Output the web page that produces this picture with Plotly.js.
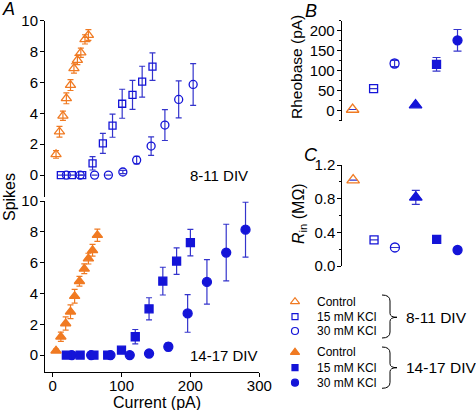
<!DOCTYPE html>
<html>
<head>
<meta charset="utf-8">
<script src="https://cdn.plot.ly/plotly-3.0.1.min.js"></script>
<style>html,body{margin:0;padding:0;background:#fff;}#plot{width:476px;height:410px;}</style>
</head>
<body>
<div id="plot"></div>
<script>
// ---------- DATA ----------
// Panel A, 8-11 DIV
var ctlX1 = [5, 10, 15, 20, 26, 31, 36, 41, 47, 52];
var ctlY1 = [1.34, 2.81, 3.84, 4.97, 5.83, 6.91, 7.45, 7.93, 8.79, 9.07];
var ctlE1 = [0.25, 0.35, 0.3, 0.35, 0.35, 0.3, 0.3, 0.3, 0.3, 0.35];
var k15X1 = [12, 28, 43, 58, 73, 87, 101, 116, 130, 145];
var k15Y1 = [0, 0, 0, 0.76, 2.05, 3.2, 4.62, 5.2, 6.05, 7.02];
var k15E1 = [0, 0, 0, 0.43, 0.65, 0.75, 0.94, 0.94, 1.0, 0.89];
var k30X1 = [20, 40, 61, 81, 102, 122, 143, 163, 183, 204];
var k30Y1 = [0, 0, 0, 0, 0.2, 0.97, 1.88, 3.24, 4.9, 5.87];
var k30E1 = [0, 0, 0, 0, 0.1, 0.25, 0.6, 1.0, 1.2, 1.35];
// Panel A, 14-17 DIV
var ctlX2 = [5, 12, 19, 26, 32, 39, 46, 52, 58, 65];
var ctlY2 = [0.28, 1.19, 2.05, 2.81, 3.82, 4.79, 5.6, 6.26, 6.8, 7.78];
var ctlE2 = [0.1, 0.3, 0.43, 0.45, 0.45, 0.32, 0.32, 0.35, 0.38, 0.4];
var k15X2 = [20, 40, 60, 80, 100, 120, 140, 160, 180, 200];
var k15Y2 = [0, 0, 0, 0, 0.32, 1.19, 3.0, 4.8, 6.1, 7.3];
var k15E2 = [0, 0, 0, 0, 0.1, 0.47, 0.72, 0.9, 0.86, 0.86];
var k30X2 = [28, 56, 84, 112, 140, 168, 196, 224, 252, 280];
var k30Y2 = [0, 0, 0, 0, 0.1, 0.54, 2.7, 4.75, 6.65, 8.14];
var k30E2 = [0, 0, 0, 0, 0.05, 0.25, 1.22, 1.45, 1.84, 1.78];
// Panels B and C (groups: 8-11 ctl, 15, 30; 14-17 ctl, 15, 30)
var groups = [1, 2, 3, 4, 5, 6];
var rheobase = [3, 55, 118, 14, 116, 176];
var rheobaseErr = [0, 0, 8, 0, 17, 27];
var rin = [1.02, 0.31, 0.22, 0.816, 0.317, 0.19];
var rinErr = [0, 0, 0, 0.083, 0, 0];
// Legend
var legendLabels = ['Control', '15 mM KCl', '30 mM KCl', 'Control', '15 mM KCl', '30 mM KCl'];
var divLabels = ['8-11 DIV', '14-17 DIV'];

// ---------- STYLE ----------
var OR = '#f07a22', BL = '#1414d8', BLE = '#3434cc';
var FONT = 'Arial, "Liberation Sans", sans-serif';
var W = 476, H = 410;

function seriesTrace(x, y, e, xa, ya, sym, col, size, ecol, ew) {
  return {
    type: 'scatter', mode: 'markers', x: x, y: y, xaxis: xa, yaxis: ya,
    cliponaxis: false, showlegend: false,
    error_y: {type: 'data', array: e, visible: true, color: ecol, thickness: 1.2, width: ew || 3},
    marker: {symbol: sym, size: size, color: col, opacity: 1, line: {color: col, width: 1.3}}
  };
}

var data = [
  seriesTrace(k30X1, k30Y1, k30E1, 'x', 'y', 'circle-open', BL, 8, BLE),
  seriesTrace(k15X1, k15Y1, k15E1, 'x', 'y', 'square-open', BL, 7, BLE),
  seriesTrace(ctlX1, ctlY1, ctlE1, 'x', 'y', 'triangle-up-open', OR, 9, OR),
  seriesTrace(k30X2, k30Y2, k30E2, 'x2', 'y2', 'circle', BL, 9, BLE),
  seriesTrace(k15X2, k15Y2, k15E2, 'x2', 'y2', 'square', BL, 8, BLE),
  seriesTrace(ctlX2, ctlY2, ctlE2, 'x2', 'y2', 'triangle-up', OR, 9, OR)
];

var bcSym = ['triangle-up-open', 'square-open', 'circle-open', 'triangle-up', 'square', 'circle'];
var bcCol = [OR, BL, BL, BL, BL, BL];
var bcSize = [11, 8, 9, 11, 8, 9];
groups.forEach(function(g, i) {
  data.push(seriesTrace([g], [rheobase[i]], [rheobaseErr[i]], 'x3', 'y3', bcSym[i], bcCol[i], bcSize[i], BLE, 4));
  data.push(seriesTrace([g], [rin[i]], [rinErr[i]], 'x4', 'y4', bcSym[i], bcCol[i], bcSize[i], BLE, 4));
});

// Legend markers on a pixel overlay axis
var legX0 = 295, legTextX = 315;
var legRowY = [301.7, 316.7, 331, 352.3, 367.7, 382.7];
var legSym = ['triangle-up-open', 'square-open', 'circle-open', 'triangle-up', 'square', 'circle'];
var legCol = [OR, BL, BL, OR, BL, BL];
var legSize = [8, 6, 7, 8, 6, 7];
legendLabels.forEach(function(l, i) {
  data.push({
    type: 'scatter', mode: 'markers', xaxis: 'x5', yaxis: 'y5', showlegend: false, cliponaxis: false,
    x: [legX0], y: [legRowY[i]],
    marker: {symbol: legSym[i], size: legSize[i], color: legCol[i], opacity: 1, line: {color: legCol[i], width: 1.2}}
  });
});

function px(x) { return x / W; }
function py(y) { return 1 - y / H; }

var axBase = {showgrid: false, zeroline: false, showline: true, linecolor: '#000', linewidth: 1,
  ticks: 'outside', ticklen: 4, tickwidth: 1, tickcolor: '#000',
  tickfont: {family: FONT, size: 15, color: '#000'}, fixedrange: true};
function ax(o) { var r = {}; for (var k in axBase) r[k] = axBase[k]; for (var k2 in o) r[k2] = o[k2]; return r; }

var annotations = [];
function txt(t, x, y, size, opts) {
  var a = {text: t, x: x, y: y, xref: 'x5', yref: 'y5', showarrow: false,
    font: {family: FONT, size: size, color: '#000'}, xanchor: 'center', yanchor: 'middle'};
  if (opts) for (var k in opts) a[k] = opts[k];
  annotations.push(a);
}
txt('<i>A</i>', 8, 9, 18);
txt('<i>B</i>', 311, 11, 18);
txt('<i>C</i>', 311, 155, 18);
txt('Spikes', 9, 197, 16, {textangle: -90});
txt('Current (pA)', 157, 402, 16);
txt('Rheobase (pA)', 296, 67, 15.5, {textangle: -90});
txt('<i>R</i><sub>in</sub> (MΩ)', 299, 214, 16, {textangle: -90});
txt(divLabels[0], 188, 175, 15, {xanchor: 'left'});
txt(divLabels[1], 188, 355, 15, {xanchor: 'left'});
legendLabels.forEach(function(l, i) { txt(l, legTextX, legRowY[i], 12, {xanchor: 'left'}); });
txt(divLabels[0], 404, 317.3, 15.5, {xanchor: 'left'});
txt(divLabels[1], 404, 367.7, 15.5, {xanchor: 'left'});

function brace(top, bot, mid) {
  var xl = 382, xs = 390, xt = 397;
  return {type: 'path', xref: 'x5', yref: 'y5', line: {color: '#000', width: 1},
    path: 'M' + xl + ',' + top + ' Q' + xs + ',' + top + ' ' + xs + ',' + (top + 6) +
      ' L' + xs + ',' + (mid - 4) + ' Q' + xs + ',' + mid + ' ' + xt + ',' + mid +
      ' Q' + xs + ',' + mid + ' ' + xs + ',' + (mid + 4) +
      ' L' + xs + ',' + (bot - 6) + ' Q' + xs + ',' + bot + ' ' + xl + ',' + bot};
}

var layout = {
  width: W, height: H, margin: {l: 0, r: 0, t: 0, b: 0},
  paper_bgcolor: '#fff', plot_bgcolor: 'rgba(0,0,0,0)', showlegend: false,
  font: {family: FONT, color: '#000'},
  xaxis: ax({domain: [px(45), px(259.3)], range: [-11, 300], anchor: 'y', visible: false}),
  yaxis: ax({domain: [py(196.7), py(20.7)], range: [-1.4, 10], anchor: 'x', dtick: 2, tick0: 0, ticklabelstandoff: -1}),
  xaxis2: ax({domain: [px(45), px(259.3)], range: [-11, 300], anchor: 'y2', dtick: 100, tick0: 0, ticklabelstandoff: -4}),
  yaxis2: ax({domain: [py(371.7), py(201)], range: [-1.08, 10], anchor: 'x2', dtick: 2, tick0: 0, ticklabelstandoff: -1}),
  xaxis3: ax({domain: [px(341.7), px(468)], range: [0.48, 6.5], anchor: 'y3', visible: false}),
  yaxis3: ax({domain: [py(120.7), py(20.7)], range: [-25, 225], anchor: 'x3', dtick: 50, tick0: 0, ticklabelstandoff: -1,
    minor: {dtick: 25, tick0: 0, ticks: 'outside', ticklen: 2, tickcolor: '#000', showgrid: false}}),
  xaxis4: ax({domain: [px(342.3), px(468)], range: [0.48, 6.5], anchor: 'y4', visible: false}),
  yaxis4: ax({domain: [py(266), py(165)], range: [0, 1.2], anchor: 'x4', dtick: 0.4, tick0: 0, tickformat: '.1f', ticklabelstandoff: -1,
    minor: {dtick: 0.2, tick0: 0, ticks: 'outside', ticklen: 2, tickcolor: '#000', showgrid: false}}),
  xaxis5: {domain: [0, 1], range: [0, W], anchor: 'y5', visible: false, fixedrange: true},
  yaxis5: {domain: [0, 1], range: [H, 0], anchor: 'x5', visible: false, fixedrange: true},
  annotations: annotations,
  shapes: [brace(295, 338, 317.3), brace(347, 388.3, 367.7)]
};

Plotly.newPlot('plot', data, layout, {staticPlot: true, displayModeBar: false});
</script>
</body>
</html>
